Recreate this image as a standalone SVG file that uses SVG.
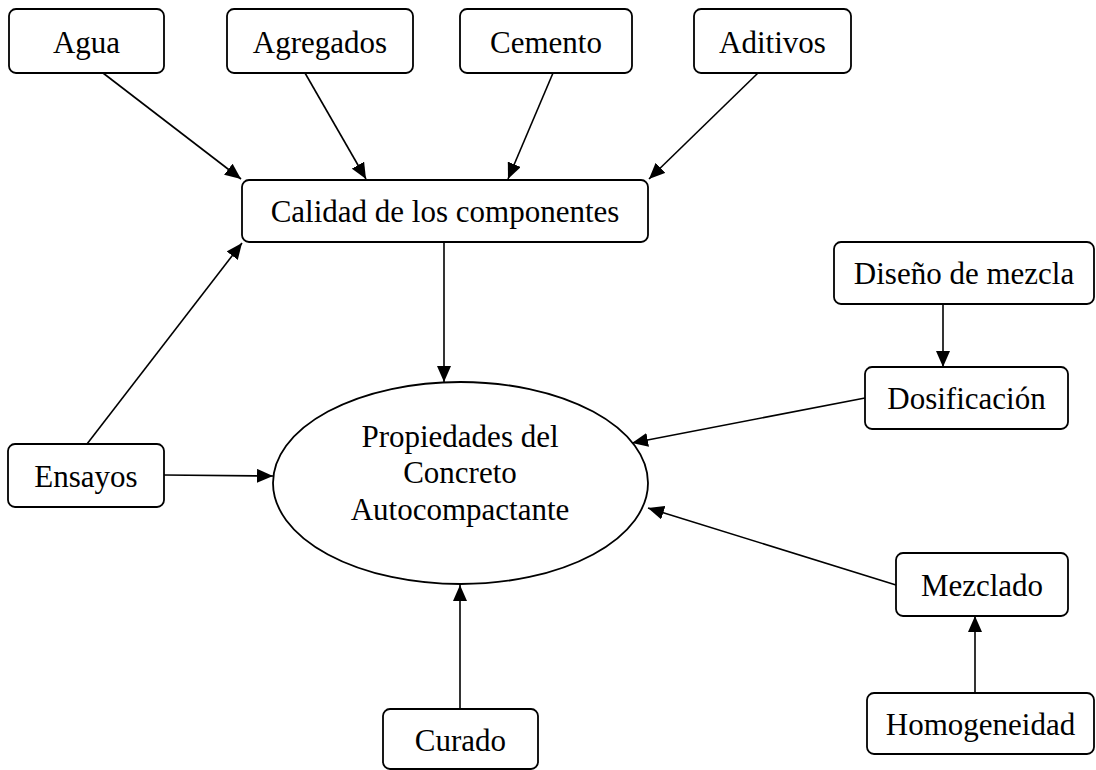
<svg xmlns="http://www.w3.org/2000/svg" width="1096" height="770" viewBox="0 0 1096 770">
<defs>
<style>
.box{fill:#fff;stroke:#000;stroke-width:1.8}
.t{font-family:"Liberation Serif","Times New Roman",serif;font-size:31px;fill:#000;text-anchor:middle}
.c{stroke:#000;stroke-width:1.6;fill:none;marker-end:url(#ah)}
</style>
<marker id="ah" markerWidth="16" markerHeight="14" refX="16" refY="7" orient="auto" markerUnits="userSpaceOnUse">
<path d="M0,0 L16,7 L0,14 Z" fill="#000"/>
</marker>
</defs>
<rect width="1096" height="770" fill="#fff"/>
<g id="connectors">
<line class="c" x1="103" y1="73" x2="241" y2="179"/>
<line class="c" x1="305" y1="73" x2="366" y2="179"/>
<line class="c" x1="553" y1="73" x2="508" y2="179"/>
<line class="c" x1="758" y1="73" x2="649" y2="179"/>
<line class="c" x1="444" y1="242" x2="444" y2="382"/>
<line class="c" x1="87" y1="444" x2="242" y2="243"/>
<line class="c" x1="164" y1="475" x2="273" y2="476"/>
<line class="c" x1="943" y1="304" x2="943" y2="367"/>
<line class="c" x1="865" y1="398" x2="632" y2="443"/>
<line class="c" x1="896" y1="585" x2="648" y2="508"/>
<line class="c" x1="975" y1="693" x2="975" y2="616"/>
<line class="c" x1="460" y1="709" x2="460" y2="585"/>
</g>
<g id="agua"><rect class="box" x="9" y="9" width="155" height="64" rx="7"/><text class="t" x="86.5" y="53">Agua</text></g>
<g id="agregados"><rect class="box" x="227" y="9" width="186" height="64" rx="7"/><text class="t" x="320" y="53">Agregados</text></g>
<g id="cemento"><rect class="box" x="460" y="9" width="172" height="64" rx="7"/><text class="t" x="546" y="53">Cemento</text></g>
<g id="aditivos"><rect class="box" x="694" y="9" width="157" height="64" rx="7"/><text class="t" x="772.5" y="53">Aditivos</text></g>
<g id="calidad"><rect class="box" x="242" y="180" width="406" height="62" rx="7"/><text class="t" x="445" y="222">Calidad de los componentes</text></g>
<g id="propiedades"><ellipse class="box" cx="460.5" cy="483" rx="187.5" ry="101"/>
<text class="t" x="460" y="447">Propiedades del</text>
<text class="t" x="460" y="483">Concreto</text>
<text class="t" x="460" y="520">Autocompactante</text></g>
<g id="ensayos"><rect class="box" x="8" y="444" width="156" height="63" rx="7"/><text class="t" x="86" y="487">Ensayos</text></g>
<g id="diseno"><rect class="box" x="834" y="242" width="260" height="62" rx="7"/><text class="t" x="964" y="284">Diseño de mezcla</text></g>
<g id="dosificacion"><rect class="box" x="865" y="367" width="203" height="62" rx="7"/><text class="t" x="966.5" y="409">Dosificación</text></g>
<g id="mezclado"><rect class="box" x="896" y="553" width="172" height="63" rx="7"/><text class="t" x="982" y="596">Mezclado</text></g>
<g id="homogeneidad"><rect class="box" x="867" y="693" width="227" height="61" rx="7"/><text class="t" x="980.5" y="735">Homogeneidad</text></g>
<g id="curado"><rect class="box" x="383" y="709" width="155" height="60" rx="7"/><text class="t" x="460.5" y="751">Curado</text></g>
</svg>
